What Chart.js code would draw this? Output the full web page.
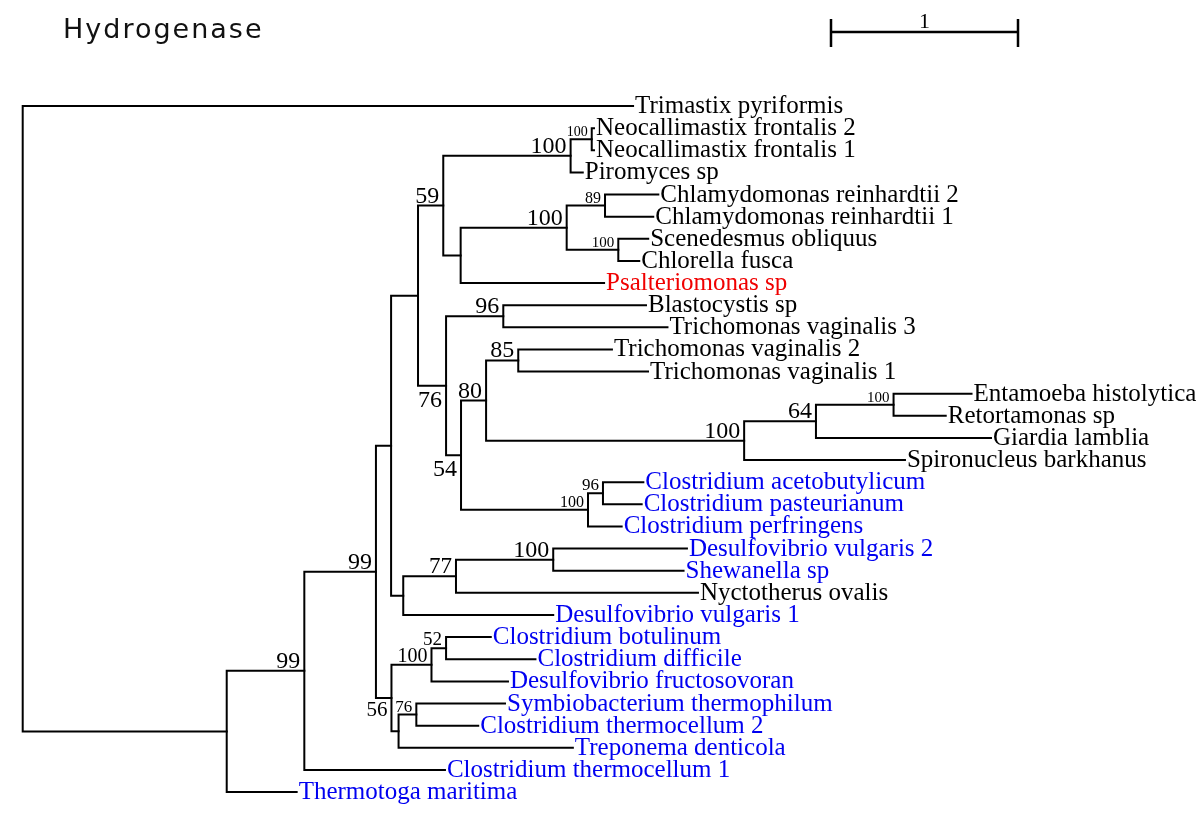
<!DOCTYPE html>
<html><head><meta charset="utf-8">
<script src="https://cdn.jsdelivr.net/npm/chart.js@4/dist/chart.umd.min.js"></script>
<style>html,body{margin:0;padding:0;background:#fff}canvas{display:block}</style>
</head><body>
<canvas id="c" width="1200" height="824"></canvas>
<script>
// ---------- DATA ----------
const chartTitle = 'Hydrogenase';
const scaleBarLabel = '1';
const scaleBarLength = 1;

const leafNames = [
  'Trimastix pyriformis','Neocallimastix frontalis 2','Neocallimastix frontalis 1','Piromyces sp',
  'Chlamydomonas reinhardtii 2','Chlamydomonas reinhardtii 1','Scenedesmus obliquus','Chlorella fusca',
  'Psalteriomonas sp','Blastocystis sp','Trichomonas vaginalis 3','Trichomonas vaginalis 2',
  'Trichomonas vaginalis 1','Entamoeba histolytica','Retortamonas sp','Giardia lamblia',
  'Spironucleus barkhanus','Clostridium acetobutylicum','Clostridium pasteurianum','Clostridium perfringens',
  'Desulfovibrio vulgaris 2','Shewanella sp','Nyctotherus ovalis','Desulfovibrio vulgaris 1',
  'Clostridium botulinum','Clostridium difficile','Desulfovibrio fructosovoran','Symbiobacterium thermophilum',
  'Clostridium thermocellum 2','Treponema denticola','Clostridium thermocellum 1','Thermotoga maritima'
];
// distance of each tip from the root (branch-length units)
const leafDepths = [
  3.264, 3.055, 3.055, 2.995,
  3.399, 3.372, 3.345, 3.297,
  3.109, 3.333, 3.448, 3.151,
  3.344, 5.074, 4.936, 5.178,
  4.718, 3.319, 3.310, 3.203,
  3.552, 3.534, 3.611, 2.837,
  2.503, 2.742, 2.595, 2.579,
  2.436, 2.942, 2.258, 1.465
];
// E = eukaryote, P = prokaryote, H = highlighted organism
const leafGroups = [
  'E','E','E','E','E','E','E','E',
  'H','E','E','E','E','E','E','E',
  'E','P','P','P','P','P','E','P',
  'P','P','P','P','P','P','P','P'
];

// internal nodes
const nodeIds = ['A','B','C','D','E','F','G','H','Hn','I','J','J1','J2','K','K1','L','M','M1','N','N1','N2','O','O1','P','Q','Q1','S','T','T1','V','V1'];
const nodeDepths = [0, 1.091, 1.506, 1.889, 1.970, 2.114, 2.249, 2.930, 3.043, 2.342, 2.909, 3.114, 3.185, 2.264, 2.570, 2.344, 2.478, 2.650, 3.858, 4.242, 4.657, 3.023, 3.103, 2.035, 2.317, 2.837, 1.972, 2.186, 2.264, 2.010, 2.105];
const nodeChildren = [
  ['L1','B'], ['C','L32'], ['D','L31'], ['E','S'], ['F','P'], ['G','K'], ['H','I'], ['Hn','L4'], ['L2','L3'],
  ['J','L9'], ['J1','J2'], ['L5','L6'], ['L7','L8'], ['K1','L'], ['L10','L11'], ['M','O'], ['M1','N'],
  ['L12','L13'], ['N1','L17'], ['N2','L16'], ['L14','L15'], ['O1','L20'], ['L18','L19'], ['Q','L24'],
  ['Q1','L23'], ['L21','L22'], ['T','V'], ['T1','L27'], ['L25','L26'], ['V1','L30'], ['L28','L29']
];
const nodeSupport = [null, null, 99, 99, null, null, 59, 100, 100, null, 100, 89, 100, 76, 96, 54, 80, 85, 100, 64, 100, 100, 96, null, 77, 100, 56, 100, 52, null, 76];

// ---------- STYLE ----------
const groupColors = { E: '#000000', P: '#0000f0', H: '#f00000' };
const supportStyle = {
  Hn: {size: 14}, J1: {size: 16}, J2: {size: 15}, N2: {size: 15}, O: {size: 16}, O1: {size: 17},
  K: {below: true}, L: {below: true}, S: {size: 21, below: true},
  T: {size: 20}, T1: {size: 19}, V1: {size: 17}, Q: {size: 23}
};
const leafFont = '25px "Liberation Serif", "Times New Roman", serif';

// ---------- BUILD ----------
const depthOf = {}, yOf = {}, kids = {};
leafNames.forEach((n, i) => { depthOf['L' + (i + 1)] = leafDepths[i]; yOf['L' + (i + 1)] = i + 1; });
nodeIds.forEach((id, i) => { depthOf[id] = nodeDepths[i]; kids[id] = nodeChildren[i]; });
function nodeY(id) {
  if (yOf[id] !== undefined) return yOf[id];
  const c = kids[id];
  yOf[id] = (nodeY(c[0]) + nodeY(c[c.length - 1])) / 2;
  return yOf[id];
}
nodeIds.forEach(nodeY);

const datasets = nodeIds.map(id => {
  const [c1, c2] = kids[id];
  return {
    label: id,
    data: [
      {x: depthOf[c1], y: yOf[c1]}, {x: depthOf[id], y: yOf[c1]},
      {x: depthOf[id], y: yOf[c2]}, {x: depthOf[c2], y: yOf[c2]}
    ],
    showLine: true, borderColor: '#000', borderWidth: 2, pointRadius: 0,
    borderJoinStyle: 'miter', borderCapStyle: 'square', tension: 0, fill: false
  };
});

const treeLabels = {
  id: 'treeLabels',
  afterDatasetsDraw(chart) {
    const ctx = chart.ctx, xs = chart.scales.x, ys = chart.scales.y;
    ctx.save();
    // leaf names
    ctx.font = leafFont; ctx.textAlign = 'left'; ctx.textBaseline = 'alphabetic';
    leafNames.forEach((name, i) => {
      ctx.fillStyle = groupColors[leafGroups[i]];
      ctx.fillText(name, xs.getPixelForValue(leafDepths[i]) + 2, ys.getPixelForValue(i + 1) + 7);
    });
    // support values
    ctx.fillStyle = '#000'; ctx.textAlign = 'right';
    nodeIds.forEach((id, i) => {
      if (nodeSupport[i] === null) return;
      const st = supportStyle[id] || {};
      const size = st.size || 24;
      ctx.font = size + 'px "Liberation Serif", serif';
      const px = xs.getPixelForValue(depthOf[id]) - 4;
      const py = ys.getPixelForValue(yOf[id]);
      ctx.fillText(String(nodeSupport[i]), px, st.below ? py + 0.88 * size : py - 3);
    });
    // title
    ctx.textAlign = 'left'; ctx.fillStyle = '#111';
    ctx.font = '27px "DejaVu Sans", sans-serif';
    ctx.letterSpacing = '2px';
    ctx.fillText(chartTitle, 63, 38);
    ctx.letterSpacing = '0px';
    // scale bar
    const x0 = 831, x1 = x0 + (xs.getPixelForValue(scaleBarLength) - xs.getPixelForValue(0));
    ctx.strokeStyle = '#000'; ctx.lineWidth = 2.5;
    ctx.beginPath();
    ctx.moveTo(x0, 32); ctx.lineTo(x1, 32);
    ctx.moveTo(x0, 19); ctx.lineTo(x0, 47);
    ctx.moveTo(x1, 19); ctx.lineTo(x1, 47);
    ctx.stroke();
    ctx.font = '22px "Liberation Serif", serif'; ctx.textAlign = 'center'; ctx.fillStyle = '#000';
    ctx.fillText(scaleBarLabel, (x0 + x1) / 2, 28);
    ctx.restore();
  }
};

new Chart(document.getElementById('c'), {
  type: 'scatter',
  data: { datasets },
  options: {
    responsive: false, animation: false, events: [],
    layout: { padding: 0 },
    plugins: { legend: { display: false }, tooltip: { enabled: false }, title: { display: false } },
    scales: {
      x: { type: 'linear', display: false, min: -22.7 / 187, max: (1200 - 22.7) / 187 },
      y: { type: 'linear', display: false, reverse: true, min: 1 - 106 / 22.13, max: 1 + 718 / 22.13 }
    }
  },
  plugins: [treeLabels]
});
</script>
</body></html>
